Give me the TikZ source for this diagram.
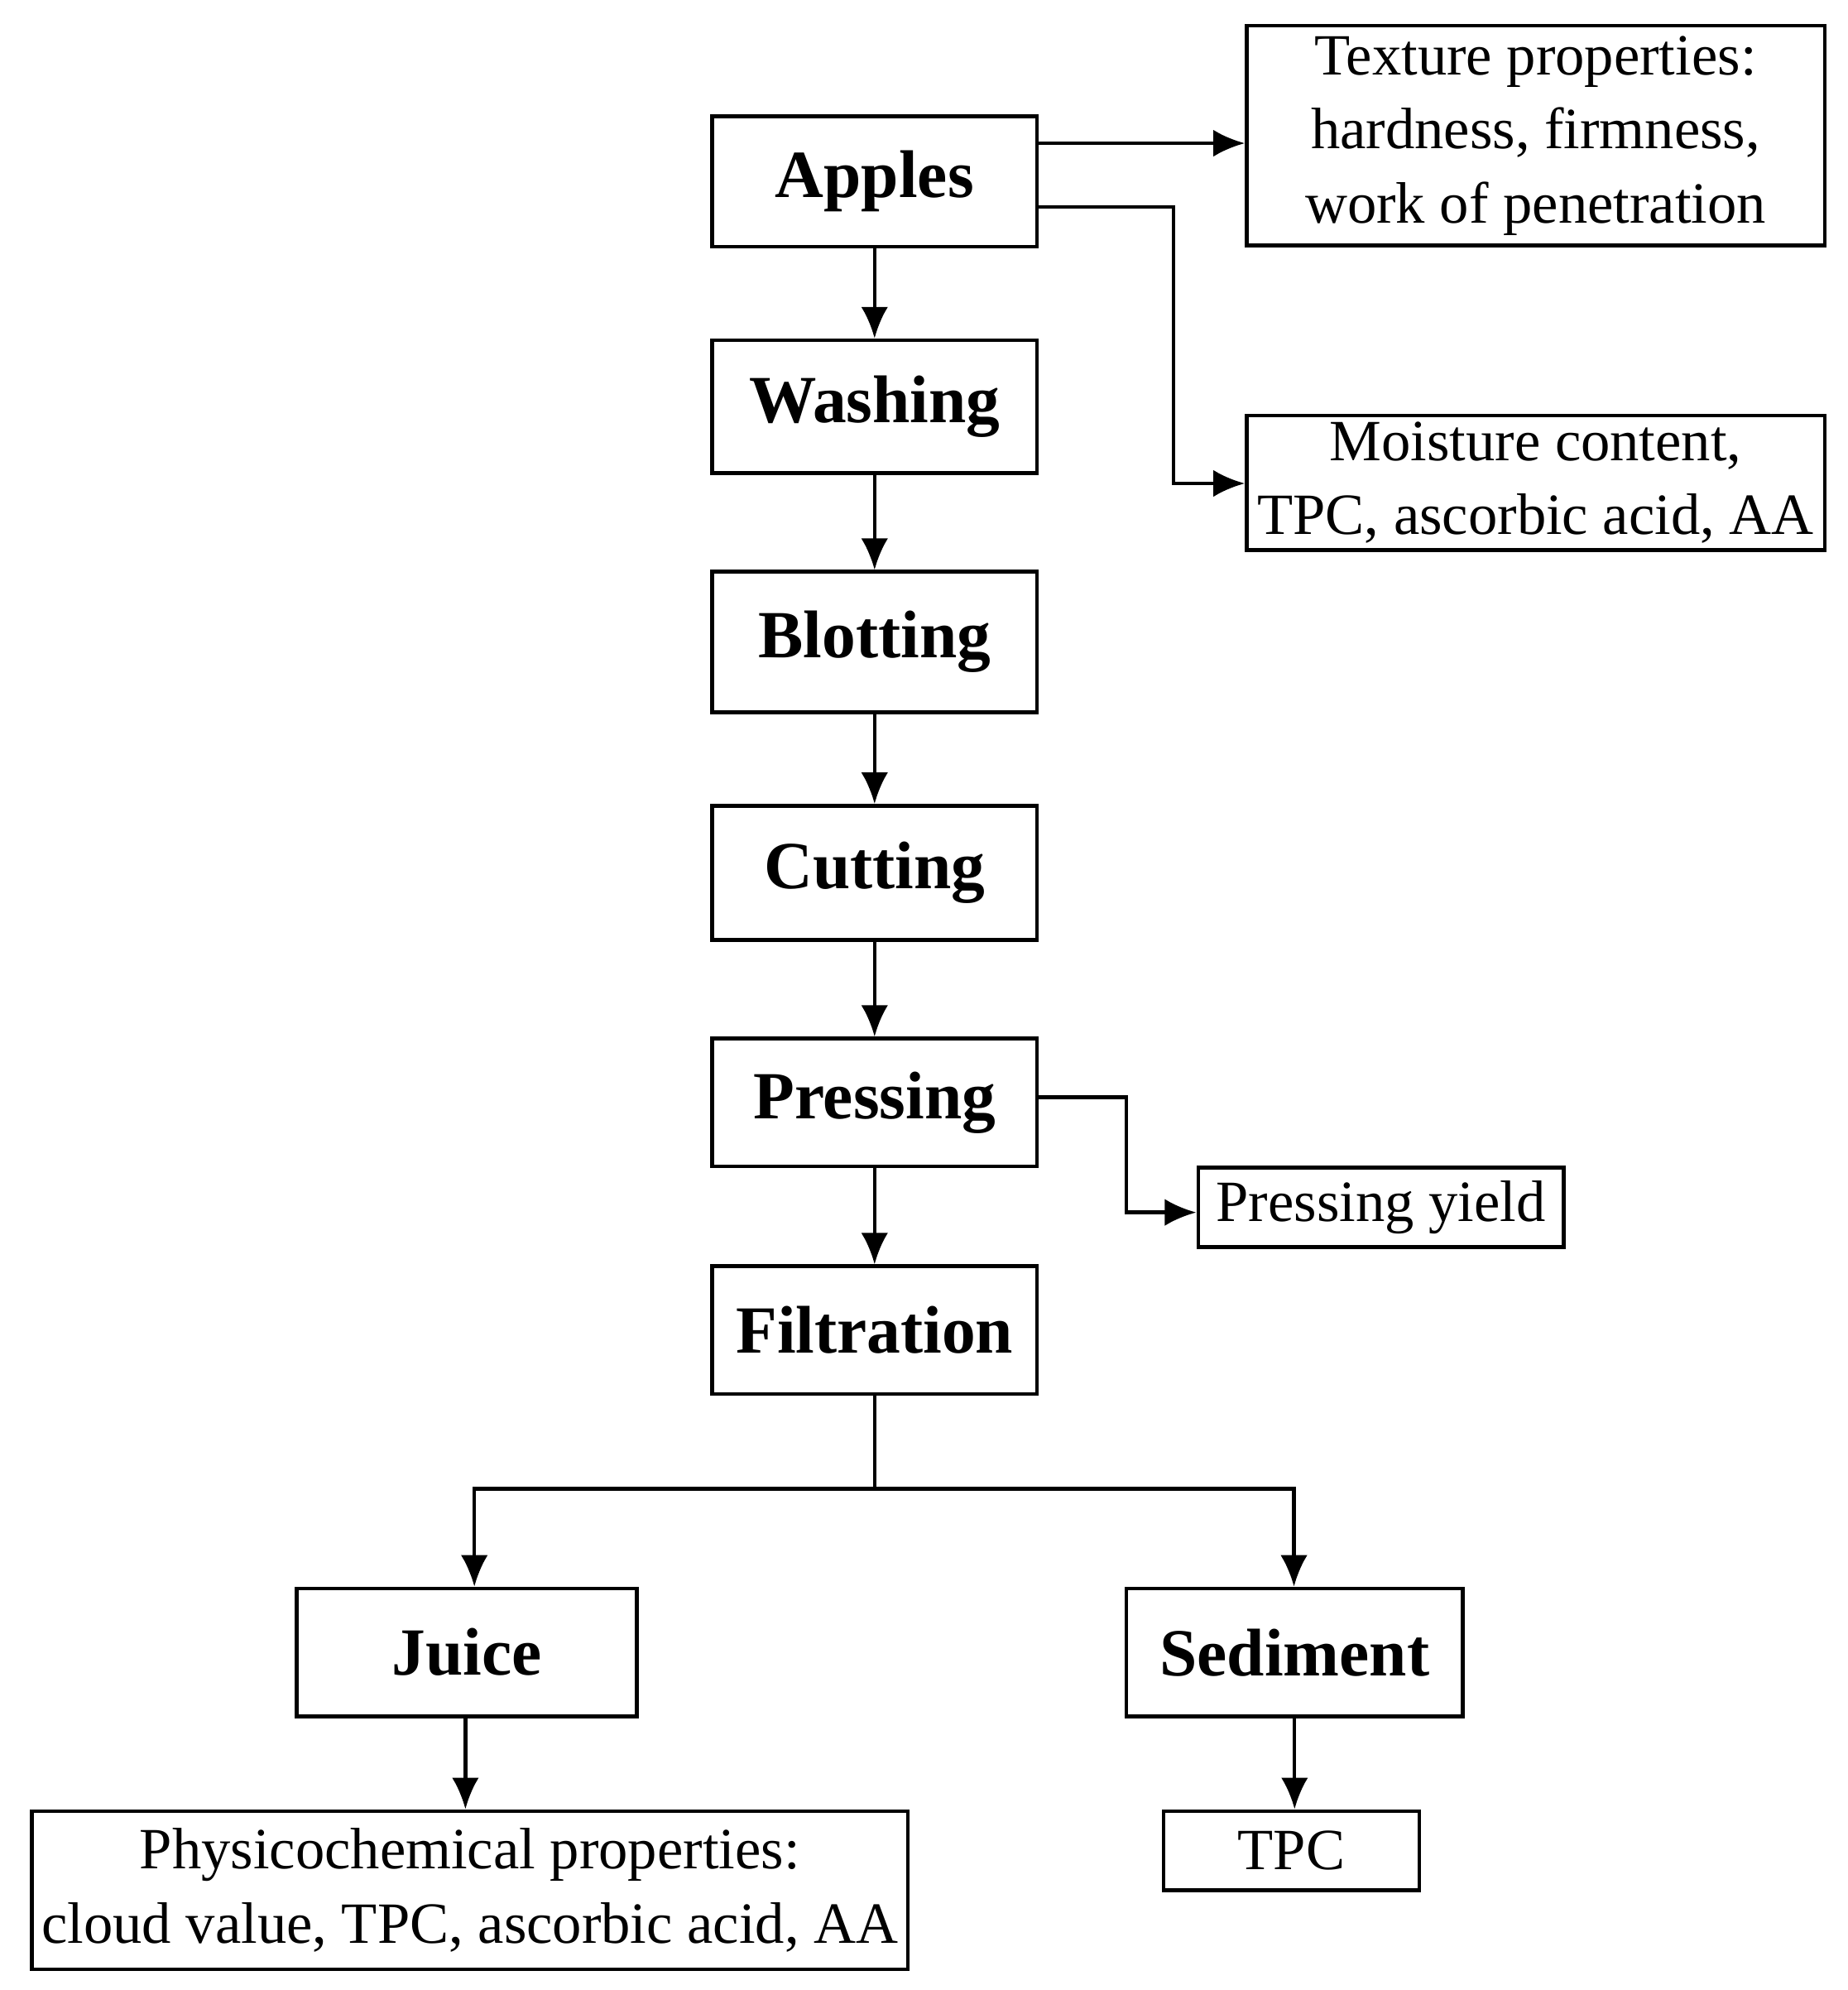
\documentclass[tikz,border=0pt]{standalone}
\usepackage{fontspec}
\setmainfont{Liberation Serif}
\usetikzlibrary{arrows.meta,positioning}
\tikzset{
  stage/.style={draw,thick,minimum width=2.54cm,minimum height=1.02cm,inner sep=1pt,font=\fontsize{15}{18}\selectfont\bfseries},
  info/.style={draw,thick,align=center,font=\fontsize{13}{16.5}\selectfont,inner sep=1pt},
  flow/.style={-{Latex[length=7pt,width=6pt]},thick}
}
\begin{document}
\begin{tikzpicture}
\useasboundingbox (0,0) rectangle (14.45,-15.56);
% process chain
\node[stage] (apples) at (6.84,-1.42) {Apples};
\node[stage,minimum height=1.04cm] (wash) at (6.84,-3.18) {Washing};
\node[stage,minimum height=1.1cm] (blot) at (6.84,-5.02) {Blotting};
\node[stage,minimum height=1.05cm] (cut) at (6.84,-6.825) {Cutting};
\node[stage,minimum height=1.0cm] (press) at (6.84,-8.62) {Pressing};
\node[stage,minimum height=1.0cm] (filt) at (6.84,-10.4) {Filtration};
\node[stage,minimum width=2.66cm,minimum height=1.0cm] (juice) at (3.65,-12.92) {Juice};
\node[stage,minimum width=2.63cm,minimum height=1.0cm] (sed) at (10.125,-12.92) {Sediment};
% measurements
\node[info,minimum width=4.52cm,minimum height=1.72cm] (texture) at (12.01,-1.06)
  {Texture properties:\\hardness, firmness,\\work of penetration};
\node[info,minimum width=4.52cm,minimum height=1.05cm] (moist) at (12.01,-3.775)
  {Moisture content,\\TPC, ascorbic acid, AA};
\node[info,minimum width=2.86cm,minimum height=0.62cm] (yield) at (10.8,-9.44) {Pressing yield};
\node[info,minimum width=6.85cm,minimum height=1.24cm] (phys) at (3.675,-14.78)
  {Physicochemical properties:\\cloud value, TPC, ascorbic acid, AA};
\node[info,minimum width=2.0cm,minimum height=0.62cm] (tpc) at (10.1,-14.47) {TPC};
\coordinate (split) at (6.84,-11.64);

\draw[flow] (apples) -- (wash);
\draw[flow] (wash) -- (blot);
\draw[flow] (blot) -- (cut);
\draw[flow] (cut) -- (press);
\draw[flow] (press) -- (filt);
\draw[flow] (apples.east |- 0,-1.12) -- (texture.west |- 0,-1.12);
\draw[flow] (apples.east |- 0,-1.62) -| (9.18,-3.78) -- (moist.west |- 0,-3.78);
\draw[flow] (press.east |- 0,-8.58) -| (8.81,-9.48) -- (yield.west |- 0,-9.48);
\draw[thick] (filt) -- (split);
\draw[flow] (split) -| (juice.north -| 3.71,0);
\draw[flow] (split) -| (sed.north -| 10.12,0);
\draw[flow] (juice.south -| 3.64,0) -- (phys.north -| 3.64,0);
\draw[flow] (sed) -- (tpc.north -| sed);
\end{tikzpicture}
\end{document}
